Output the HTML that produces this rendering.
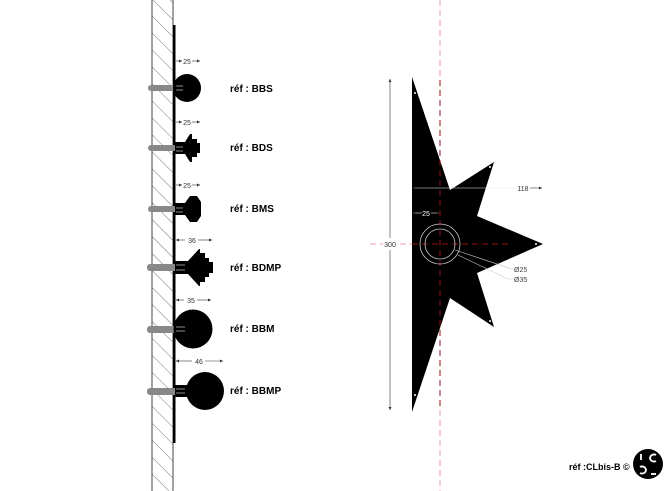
<!DOCTYPE html>
<html><head><meta charset="utf-8"><style>
html,body{margin:0;padding:0;background:#fff}
svg{display:block}
text{font-family:"Liberation Sans",sans-serif}
.lb{font-weight:bold;font-size:10px;fill:#000}
.dm{font-size:7px;fill:#333}
</style></head><body>
<svg width="670" height="491" viewBox="0 0 670 491" xmlns="http://www.w3.org/2000/svg">
<defs>
<pattern id="h" width="12" height="12" patternUnits="userSpaceOnUse" patternTransform="rotate(-45)">
<line x1="0" y1="0" x2="0" y2="12" stroke="#555" stroke-width="0.8"/>
</pattern>
<marker id="a" viewBox="0 0 6 6" refX="6" refY="3" markerWidth="5" markerHeight="5" orient="auto-start-reverse"><path d="M0,0L6,3L0,6z" fill="#333"/></marker>
</defs>
<!-- wall -->
<rect x="152" y="0" width="21" height="491" fill="url(#h)"/>
<line x1="152" y1="0" x2="152" y2="491" stroke="#444" stroke-width="1"/>
<line x1="173" y1="0" x2="173" y2="491" stroke="#444" stroke-width="1"/>
<rect x="173" y="25" width="2.5" height="418" fill="#000"/>

<!-- screws -->
<g fill="#888">
<rect x="148" y="85" width="35" height="6" rx="3"/>
<rect x="148" y="145" width="35" height="6" rx="3"/>
<rect x="148" y="206" width="35" height="6" rx="3"/>
<rect x="147" y="264" width="38" height="7" rx="3"/>
<rect x="147" y="326" width="38" height="7" rx="3"/>
<rect x="147" y="388" width="38" height="7" rx="3"/>
</g>
<!-- knobs -->
<g fill="#000">
<circle cx="187" cy="88" r="14"/>
<rect x="175" y="142" width="11" height="12"/>
<path d="M185,142 L190,134 L192,134 L192,139 L197,139 L197,143 L200,143 L200,153 L197,153 L197,157 L192,157 L192,162 L190,162 L185,154z"/>
<rect x="175" y="203" width="11" height="12"/>
<path d="M185,203 L190,196 L197,196 L201,202 L201,216 L197,222 L190,222 L185,215z"/>
<rect x="175" y="261" width="14" height="13"/>
<path d="M188,261 L199,249 L200,249 L200,253 L205,253 L205,258 L209,258 L209,262 L213,262 L213,273 L209,273 L209,277 L205,277 L205,282 L200,282 L200,286 L199,286 L188,274z"/>
<circle cx="193" cy="329" r="19.5"/>
<rect x="175" y="385" width="13" height="12"/>
<circle cx="205" cy="391" r="19"/>
</g>
<g stroke="#bbb" stroke-width="0.7" fill="none">
<path d="M176,86h7M176,90h7M176,147h7M176,151h7M176,208h7M176,212h7M176,265h9M176,270h9M176,327h9M176,331h9M176,389h9M176,393h9"/>
</g>
<!-- dims left -->
<g stroke="#333" stroke-width="0.6" marker-end="url(#a)">
<line x1="176" y1="61" x2="182" y2="61"/>
<line x1="192" y1="61" x2="200" y2="61"/>
<line x1="176" y1="122" x2="182" y2="122"/>
<line x1="192" y1="122" x2="200" y2="122"/>
<line x1="176" y1="185" x2="182" y2="185"/>
<line x1="192" y1="185" x2="200" y2="185"/>
</g>
<g stroke="#333" stroke-width="0.6">
<line x1="176" y1="240" x2="185" y2="240" marker-start="url(#a)"/>
<line x1="198" y1="240" x2="212" y2="240" marker-end="url(#a)"/>
<line x1="176" y1="300" x2="184" y2="300" marker-start="url(#a)"/>
<line x1="197" y1="300" x2="211" y2="300" marker-end="url(#a)"/>
<line x1="176" y1="361" x2="192" y2="361" marker-start="url(#a)"/>
<line x1="205" y1="361" x2="223" y2="361" marker-end="url(#a)"/>
</g>
<g class="dm" text-anchor="middle">
<text x="187" y="64">25</text><text x="187" y="125">25</text><text x="187" y="188">25</text>
<text x="192" y="243">36</text><text x="191" y="303">35</text><text x="199" y="364">46</text>
</g>
<g class="lb">
<text x="230" y="92">réf : BBS</text>
<text x="230" y="151">réf : BDS</text>
<text x="230" y="212">réf : BMS</text>
<text x="230" y="271">réf : BDMP</text>
<text x="230" y="332">réf : BBM</text>
<text x="230" y="394">réf : BBMP</text>
</g>

<!-- star -->
<line x1="440" y1="0" x2="440" y2="491" stroke="#e8a0a8" stroke-width="1" stroke-dasharray="6,4"/>
<path d="M412,77 L450,190 L494,162 L477,216 L543,244 L477,273 L494,327 L450,298 L412,412z" fill="#000"/>
<line x1="440" y1="80" x2="440" y2="410" stroke="#8b1010" stroke-width="1" stroke-dasharray="6,4"/>
<line x1="370" y1="244" x2="412" y2="244" stroke="#e8a0a8" stroke-width="1" stroke-dasharray="6,4"/>
<line x1="412" y1="244" x2="508" y2="244" stroke="#8b1010" stroke-width="1" stroke-dasharray="6,4"/>
<circle cx="440" cy="244" r="20" fill="none" stroke="#ccc" stroke-width="0.8"/>
<circle cx="440" cy="244" r="15" fill="none" stroke="#ccc" stroke-width="0.8"/>
<g fill="#fff"><circle cx="415" cy="93" r="1"/><circle cx="490" cy="167" r="1"/><circle cx="536" cy="244" r="1"/><circle cx="490" cy="321" r="1"/><circle cx="415" cy="395" r="1"/></g>
<g stroke="#ccc" stroke-width="0.6" fill="none">
<polyline points="455,250 512,269 519,269"/>
<polyline points="458,255 508,279 519,279"/>
</g>
<g stroke="#eee" stroke-width="0.6">
<line x1="413" y1="188" x2="516" y2="188" marker-start="url(#a)"/>
<line x1="413" y1="213" x2="422" y2="213" marker-start="url(#a)"/>
<line x1="431" y1="213" x2="439" y2="213" marker-end="url(#a)"/>
</g>
<line x1="530" y1="188" x2="542" y2="188" stroke="#333" stroke-width="0.6" marker-end="url(#a)"/>
<text x="523" y="191" class="dm" text-anchor="middle">118</text>
<text x="426" y="216" class="dm" text-anchor="middle" style="fill:#fff">25</text>
<text x="514" y="272" class="dm" style="fill:#444">Ø25</text>
<text x="514" y="282" class="dm" style="fill:#444">Ø35</text>
<line x1="390" y1="79" x2="390" y2="238" stroke="#333" stroke-width="0.6" marker-start="url(#a)"/>
<line x1="390" y1="250" x2="390" y2="410" stroke="#333" stroke-width="0.6" marker-end="url(#a)"/>
<rect x="383" y="240" width="14" height="8" fill="#fff"/>
<text x="390" y="247" class="dm" text-anchor="middle">300</text>

<!-- footer -->
<text x="569" y="470" style="font-size:9px;font-weight:bold">réf :CLbis-B ©</text>
<circle cx="648" cy="464" r="15" fill="#000"/>
<g stroke="#fff" stroke-width="1.8" fill="none">
<line x1="641" y1="454" x2="641" y2="460"/>
<path d="M656,455 a4,4 0 0 0 -6,3 a4,4 0 0 0 6,3"/>
<path d="M640,467 a4,4 0 0 1 6,3 a4,4 0 0 1 -6,3"/>
<line x1="651" y1="474" x2="656" y2="474"/>
</g>
</svg>
</body></html>
